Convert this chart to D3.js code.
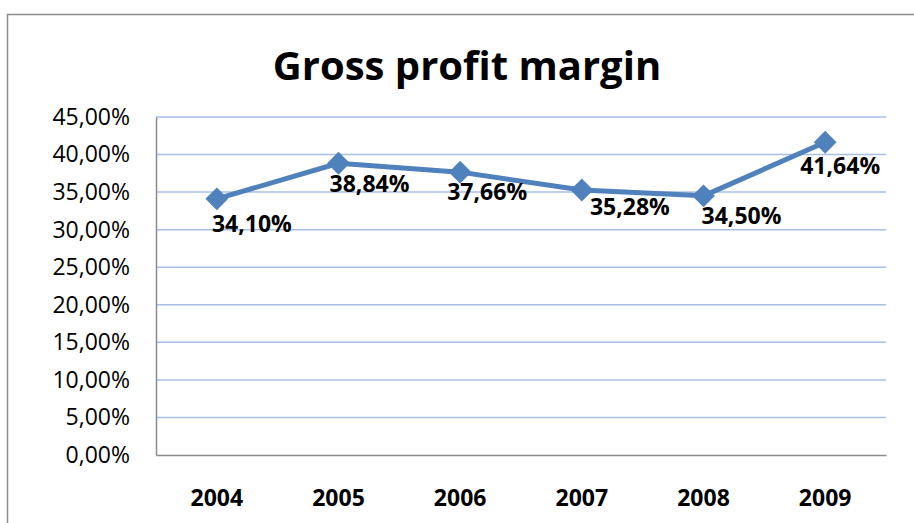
<!DOCTYPE html>
<html>
<head>
<meta charset="utf-8">
<script src="https://cdn.jsdelivr.net/npm/d3@7"></script>
<style>
  body { margin: 0; background: #fff; }
  svg { display: block; font-family: 'Open Sans', sans-serif; }
</style>
</head>
<body>
<svg width="914" height="523"></svg>
<script>
// chart data
var years = ['2004', '2005', '2006', '2007', '2008', '2009'];
var margins = [34.10, 38.84, 37.66, 35.28, 34.50, 41.64];
var yTicks = [0, 5, 10, 15, 20, 25, 30, 35, 40, 45];
var chartTitle = 'Gross profit margin';

// label nudges (px) as placed in the original
var labelNudge = [[35, 33], [31, 29], [27, 28], [48, 25], [38, 28], [15, 32]];

var svgElement = d3.select('svg');
var plot = { left: 156, right: 886, top: 117, bottom: 455 };

var fmt = function (v) { return v.toFixed(2).replace('.', ',') + '%'; };

// outer frame (runs off the page right/bottom)
svgElement.append('rect')
  .attr('x', 7.5).attr('y', 14.5)
  .attr('width', 1200).attr('height', 1200)
  .attr('fill', 'none')
  .attr('stroke', '#8c8c8c')
  .attr('stroke-width', 1.5);

var xScale = d3.scaleBand().domain(years).range([plot.left, plot.right]);
var yScale = d3.scaleLinear().domain([0, 45]).range([plot.bottom, plot.top]);

// gridlines
svgElement.append('g')
  .selectAll('line')
  .data(yTicks.filter(function (d) { return d > 0; }))
  .enter()
  .append('line')
  .attr('x1', plot.left).attr('x2', plot.right)
  .attr('y1', function (d) { return yScale(d); })
  .attr('y2', function (d) { return yScale(d); })
  .attr('stroke', '#a8bfe4')
  .attr('stroke-width', 1.5);

// y axis
var yAxis = svgElement.append('g')
  .attr('transform', 'translate(' + plot.left + ',0)')
  .call(d3.axisLeft(yScale).tickValues(yTicks).tickSize(0).tickPadding(26).tickFormat(fmt));
yAxis.select('.domain').attr('stroke', '#8c8c8c').attr('stroke-width', 1.5);
yAxis.selectAll('text')
  .attr('font-family', 'Open Sans, sans-serif')
  .attr('font-size', 23)
  .attr('fill', '#000');

// x axis
var xAxis = svgElement.append('g')
  .attr('transform', 'translate(0,' + plot.bottom + ')')
  .call(d3.axisBottom(xScale).tickSize(0).tickPadding(35));
xAxis.select('.domain').attr('stroke', '#8c8c8c').attr('stroke-width', 1.5);
xAxis.selectAll('text')
  .attr('font-family', 'Open Sans, sans-serif')
  .attr('font-size', 23)
  .attr('font-weight', 'bold')
  .attr('fill', '#000');

var cx = function (i) { return xScale(years[i]) + xScale.bandwidth() / 2; };

// line
var line = d3.line()
  .x(function (d, i) { return cx(i); })
  .y(function (d) { return yScale(d); });

svgElement.append('path')
  .datum(margins)
  .attr('d', line)
  .attr('fill', 'none')
  .attr('stroke', '#4f81bd')
  .attr('stroke-width', 5)
  .attr('stroke-linejoin', 'round');

// diamond markers
svgElement.append('g')
  .selectAll('path')
  .data(margins)
  .enter()
  .append('path')
  .attr('d', d3.symbol().type(d3.symbolSquare).size(260))
  .attr('transform', function (d, i) {
    return 'translate(' + cx(i) + ',' + yScale(d) + ') rotate(45)';
  })
  .attr('fill', '#4f81bd');

// data labels
svgElement.append('g')
  .selectAll('text')
  .data(margins)
  .enter()
  .append('text')
  .attr('x', function (d, i) { return cx(i) + labelNudge[i][0]; })
  .attr('y', function (d, i) { return yScale(d) + labelNudge[i][1]; })
  .attr('text-anchor', 'middle')
  .attr('font-size', 23)
  .attr('font-weight', 'bold')
  .attr('fill', '#000')
  .text(fmt);

// title
svgElement.append('text')
  .attr('x', 467)
  .attr('y', 80)
  .attr('text-anchor', 'middle')
  .attr('font-size', 40)
  .attr('font-weight', 'bold')
  .attr('fill', '#000')
  .text(chartTitle);
</script>
</body>
</html>
